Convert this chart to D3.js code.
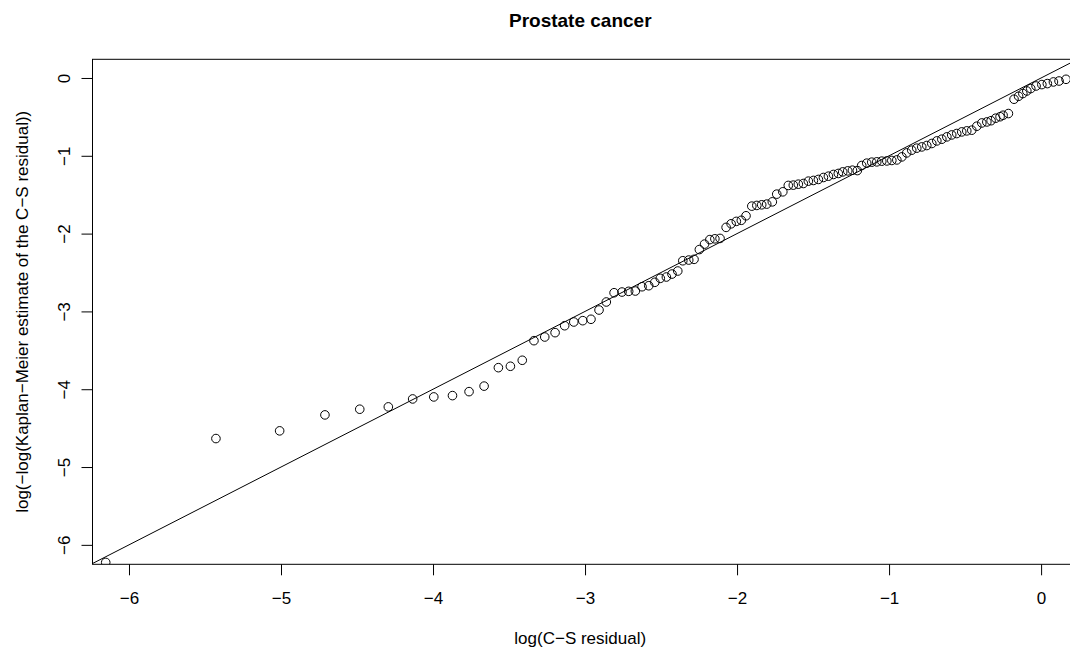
<!DOCTYPE html>
<html>
<head>
<meta charset="utf-8">
<script src="https://cdn.jsdelivr.net/npm/d3@7"></script>
<style>
  body { margin: 0; background: #fff; }
  text { font-family: "Liberation Sans", Arial, sans-serif; fill: #000; }
</style>
</head>
<body>
<svg id="container" width="1070" height="650"></svg>
<script>
// log(C-S residual)
let logResid = [
  -6.153, -5.428, -5.009, -4.711, -4.482, -4.294, -4.134, -3.995, -3.872, -3.763,
  -3.664, -3.570, -3.491, -3.413, -3.336, -3.265, -3.197, -3.134, -3.074, -3.015,
  -2.961, -2.908, -2.860, -2.809, -2.757, -2.713, -2.669, -2.625, -2.581, -2.541,
  -2.505, -2.465, -2.428, -2.390, -2.357, -2.318, -2.283, -2.248, -2.214, -2.179,
  -2.146, -2.112, -2.072, -2.039, -2.005, -1.972, -1.941, -1.903, -1.870, -1.838,
  -1.805, -1.768, -1.739, -1.699, -1.663, -1.630, -1.597, -1.564, -1.531, -1.498,
  -1.465, -1.432, -1.399, -1.366, -1.334, -1.305, -1.272, -1.241, -1.209, -1.180,
  -1.147, -1.114, -1.081, -1.048, -1.015, -0.982, -0.949, -0.916, -0.884, -0.851,
  -0.818, -0.785, -0.752, -0.719, -0.686, -0.653, -0.620, -0.588, -0.555, -0.522,
  -0.489, -0.456, -0.423, -0.390, -0.357, -0.329, -0.299, -0.270, -0.250, -0.215,
  -0.178, -0.148, -0.120, -0.094, -0.068, -0.033, 0.005, 0.041, 0.081, 0.118,
  0.164
];

// log(-log(KM estimate of the C-S residual))
let logLogKM = [
  -6.226, -4.634, -4.535, -4.330, -4.257, -4.227, -4.125, -4.099, -4.082, -4.031,
  -3.960, -3.723, -3.705, -3.628, -3.376, -3.329, -3.273, -3.184, -3.136, -3.119,
  -3.101, -2.982, -2.879, -2.760, -2.751, -2.742, -2.738, -2.683, -2.670, -2.626,
  -2.575, -2.558, -2.520, -2.481, -2.349, -2.340, -2.331, -2.205, -2.135, -2.077,
  -2.067, -2.062, -1.920, -1.874, -1.843, -1.829, -1.771, -1.647, -1.638, -1.630,
  -1.621, -1.592, -1.493, -1.463, -1.381, -1.377, -1.365, -1.356, -1.326, -1.317,
  -1.304, -1.279, -1.262, -1.240, -1.227, -1.207, -1.194, -1.185, -1.190, -1.125,
  -1.095, -1.082, -1.078, -1.069, -1.066, -1.060, -1.053, -1.014, -0.963, -0.928,
  -0.902, -0.886, -0.868, -0.842, -0.809, -0.787, -0.757, -0.732, -0.714, -0.693,
  -0.680, -0.671, -0.620, -0.578, -0.565, -0.549, -0.517, -0.498, -0.479, -0.457,
  -0.273, -0.235, -0.200, -0.167, -0.136, -0.103, -0.085, -0.072, -0.051, -0.039,
  -0.017
];

let xTicks = [-6, -5, -4, -3, -2, -1, 0];
let yTicks = [-6, -5, -4, -3, -2, -1, 0];

let titleText = "Prostate cancer";
let xLabel = "log(C\u2212S residual)";
let yLabel = "log(\u2212log(Kaplan\u2212Meier estimate of the C\u2212S residual))";

function draw() {
    let svg = d3.select("#container");
    let left = 92.5, right = 1071.5, top = 59.3, bottom = 564.3;

    let x = d3.scaleLinear().domain([-6.24, 0.2]).range([left, right]);
    let y = d3.scaleLinear().domain([-6.25, 0.24]).range([bottom, top]);

    let pts = logResid.map((v, i) => ({x: v, y: logLogKM[i]}));

    svg.append("clipPath").attr("id", "plotclip")
        .append("rect")
        .attr("x", left).attr("y", top)
        .attr("width", right - left).attr("height", bottom - top);

    let plot = svg.append("g").attr("clip-path", "url(#plotclip)");

    // reference line y = x
    let ends = x.domain();
    plot.append("line")
        .attr("x1", x(ends[0])).attr("y1", y(ends[0]))
        .attr("x2", x(ends[1])).attr("y2", y(ends[1]))
        .attr("stroke", "#000").attr("stroke-width", 1);

    plot.selectAll("circle")
        .data(pts)
        .enter().append("circle")
        .attr("cx", d => x(d.x))
        .attr("cy", d => y(d.y))
        .attr("r", 4.3)
        .attr("fill", "none")
        .attr("stroke", "#000")
        .attr("stroke-width", 1);

    // axes, R style: ticks outward, labels below / rotated on the left
    let fmt = d3.format("d");
    let xAxis = svg.append("g")
        .attr("transform", "translate(0," + bottom + ")")
        .call(d3.axisBottom(x).tickValues(xTicks).tickSize(11).tickPadding(0).tickFormat(fmt));
    xAxis.select(".domain").remove();
    xAxis.selectAll("text").attr("font-size", 17).attr("dy", null).attr("y", 40);

    let yAxis = svg.append("g")
        .attr("transform", "translate(" + left + ",0)")
        .call(d3.axisLeft(y).tickValues(yTicks).tickSize(11).tickFormat(fmt));
    yAxis.select(".domain").remove();
    yAxis.selectAll("text").remove();
    yAxis.selectAll(".tick").append("text")
        .attr("transform", "translate(-23,0) rotate(-90)")
        .attr("text-anchor", "middle")
        .attr("font-size", 17)
        .text(d => fmt(d));
    svg.selectAll(".tick line").attr("stroke", "#000");
    svg.selectAll(".tick text").attr("fill", "#000").attr("font-family", "Liberation Sans, Arial, sans-serif");

    // box
    svg.append("rect")
        .attr("x", left).attr("y", top)
        .attr("width", right - left).attr("height", bottom - top)
        .attr("fill", "none").attr("stroke", "#000").attr("stroke-width", 1);

    let cx = (left + 1068) / 2;
    svg.append("text")
        .attr("x", cx).attr("y", 27)
        .attr("text-anchor", "middle")
        .attr("font-size", 19).attr("font-weight", "bold")
        .text(titleText);

    svg.append("text")
        .attr("x", cx).attr("y", 644)
        .attr("text-anchor", "middle")
        .attr("font-size", 17)
        .text(xLabel);

    svg.append("text")
        .attr("transform", "translate(28," + ((top + bottom) / 2) + ") rotate(-90)")
        .attr("text-anchor", "middle")
        .attr("font-size", 17)
        .text(yLabel);
}

document.addEventListener("DOMContentLoaded", draw);
</script>
</body>
</html>
